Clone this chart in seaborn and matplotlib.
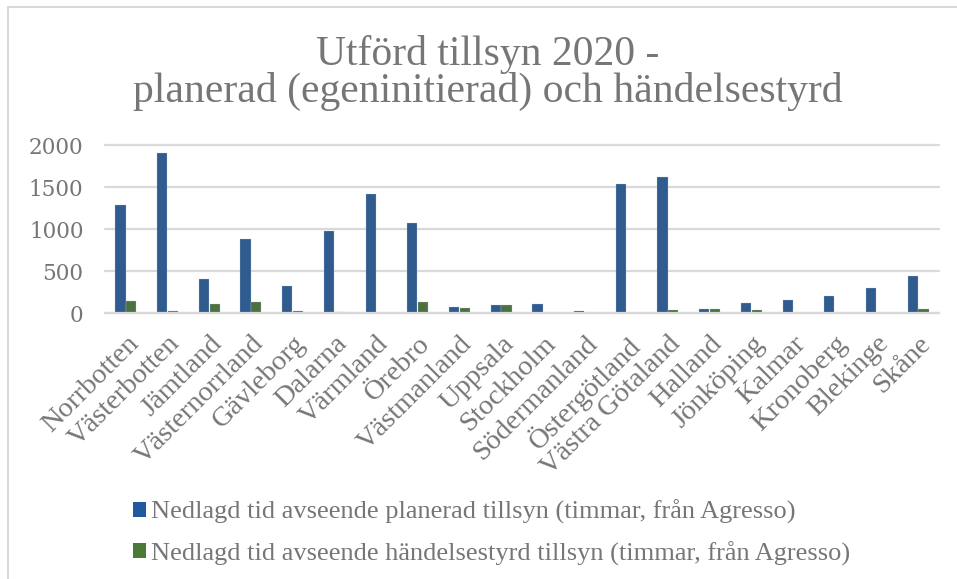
import matplotlib
matplotlib.use("Agg")
import matplotlib.pyplot as plt
import seaborn as sns
import pandas as pd
from matplotlib.patches import Patch
from matplotlib.lines import Line2D

regions = ["Norrbotten", "Västerbotten", "Jämtland", "Västernorrland", "Gävleborg",
           "Dalarna", "Värmland", "Örebro", "Västmanland", "Uppsala", "Stockholm",
           "Södermanland", "Östergötland", "Västra Götaland", "Halland", "Jönköping",
           "Kalmar", "Kronoberg", "Blekinge", "Skåne"]
planerad = [1280, 1909, 402, 879, 318, 974, 1412, 1066, 68, 91, 107,
            24, 1531, 1622, 48, 119, 155, 207, 298, 437]
handelse = [139, 28, 103, 135, 20, 8, 0, 127, 64, 91, 0,
            0, 0, 32, 48, 40, 0, 0, 0, 44]
series = ["Nedlagd tid avseende planerad tillsyn (timmar, från Agresso)",
          "Nedlagd tid avseende händelsestyrd tillsyn (timmar, från Agresso)"]
title = "Utförd tillsyn 2020 -\nplanerad (egeninitierad) och händelsestyrd"
yticks = [0, 500, 1000, 1500, 2000]

blue = "#1f5a9f"
green = "#4a7a35"
grey_txt = "#767676"
grid_c = "#d9d9d9"
serif = ["Liberation Serif", "DejaVu Serif"]

df = pd.DataFrame({
    "region": regions * 2,
    "value": planerad + handelse,
    "series": [series[0]] * len(regions) + [series[1]] * len(regions),
})

sns.set_theme(style="white")
plt.rcParams["font.family"] = serif

fig = plt.figure(figsize=(9.57, 5.79), dpi=100)
ax = fig.add_axes([105 / 957, 1 - 313 / 579, (939 - 105) / 957, (313 - 145) / 579])

sns.barplot(data=df, x="region", y="value", hue="series", order=regions,
            hue_order=series, palette=[blue, green], width=0.52, gap=0.06,
            ax=ax, legend=False, edgecolor="#b3c6e0", linewidth=0.2)

ax.set_ylim(0, 2000)
ax.set_yticks(yticks)
ax.set_yticklabels([str(v) for v in yticks], fontsize=15.5, color=grey_txt,
                   family="DejaVu Serif")
ax.yaxis.grid(True, color=grid_c, linewidth=1.6)
ax.set_axisbelow(True)
for g in ax.get_ygridlines():
    g.set_clip_on(False)
for s in ["top", "right", "left"]:
    ax.spines[s].set_visible(False)
ax.spines["bottom"].set_color(grid_c)
ax.spines["bottom"].set_linewidth(1.6)
ax.tick_params(axis="both", length=0)
ax.tick_params(axis="y", pad=15.5)
ax.set_xlabel("")
ax.set_ylabel("")
ax.set_xticks(range(len(regions)))
ax.set_xticklabels(regions, rotation=45, ha="right", va="top",
                   rotation_mode="anchor", fontsize=20.5, color=grey_txt)
ax.tick_params(axis="x", pad=13)

fig.text(0.51, 1 - 73 / 579, title, ha="center", va="center", fontsize=30,
         color=grey_txt, linespacing=0.95)

handles = [Patch(facecolor=blue, edgecolor="none"), Patch(facecolor=green, edgecolor="none")]
leg = fig.legend(handles, series, loc="upper left", bbox_to_anchor=(109 / 957, 1 - 476 / 579),
                 frameon=False, handlelength=0.5, handleheight=0.5, handletextpad=0.2,
                 labelspacing=0.65, prop={"family": "Liberation Serif", "size": 19})
for t in leg.get_texts():
    t.set_color(grey_txt)

# chart border (partially visible)
fig.add_artist(Line2D([8 / 957, 8 / 957], [0, 1 - 7 / 579], transform=fig.transFigure,
                      color="#d9d9d9", linewidth=1.5))
fig.add_artist(Line2D([8 / 957, 1], [1 - 7 / 579, 1 - 7 / 579], transform=fig.transFigure,
                      color="#d9d9d9", linewidth=1.5))

fig.savefig("out.png", dpi=100)
